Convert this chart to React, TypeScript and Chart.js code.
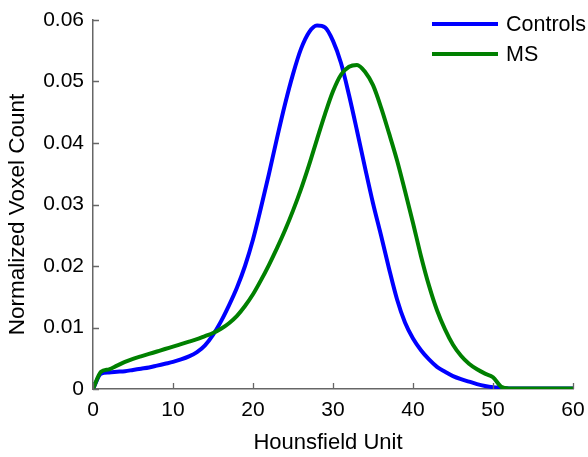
import React, { useEffect, useRef } from "react";
import { Chart, registerables } from "chart.js";

Chart.register(...registerables);

const huValues = [
  0, 1, 2, 3, 4, 5, 6, 7, 8, 9, 10, 11, 12, 13, 14, 15, 16, 17, 18, 19, 20,
  21, 22, 23, 24, 25, 26, 27, 28, 29, 30, 31, 32, 33, 34, 35, 36, 37, 38, 39, 40,
  41, 42, 43, 44, 45, 46, 47, 48, 49, 50, 51, 52, 53, 54, 55, 56, 57, 58, 59, 60,
];

const controlsValues = [
  0, 0.0025, 0.0027, 0.0028, 0.0029, 0.0031, 0.0033, 0.0035, 0.0038, 0.0041, 0.0044,
  0.0048, 0.0053, 0.006, 0.0071, 0.0088, 0.011, 0.0136, 0.0165, 0.02, 0.0243,
  0.0295, 0.035, 0.0408, 0.0463, 0.0512, 0.0553, 0.058, 0.0591, 0.0588, 0.0566,
  0.053, 0.0478, 0.042, 0.036, 0.0302, 0.025, 0.0196, 0.0146, 0.0108, 0.0082,
  0.0063, 0.0048, 0.0036, 0.0028, 0.0021, 0.0016, 0.0012, 0.0008, 0.0005, 0.0003,
  0.0002, 0.0001, 0.0001, 0.0001, 0.0001, 0.0001, 0.0001, 0.0001, 0.0001, 0.0001,
];

const msValues = [
  0, 0.0028, 0.0032, 0.0038, 0.0044, 0.0049, 0.0053, 0.0057, 0.0061, 0.0065, 0.0069,
  0.0073, 0.0077, 0.0081, 0.0086, 0.0091, 0.0098, 0.0107, 0.0119, 0.0135, 0.0154,
  0.0177, 0.0202, 0.0229, 0.0258, 0.029, 0.0325, 0.0364, 0.0406, 0.0447, 0.0484,
  0.0511, 0.0524, 0.0527, 0.0516, 0.0494, 0.0458, 0.0416, 0.0372, 0.0322, 0.027,
  0.0216, 0.0168, 0.0128, 0.0097, 0.0072, 0.0054, 0.0041, 0.0032, 0.0025, 0.0019,
  0.0004, 0.0001, 0.0001, 0.0001, 0.0001, 0.0001, 0.0001, 0.0001, 0.0001, 0.0001,
];

const seriesNames = ["Controls", "MS"];
const seriesColors = ["#0000ff", "#008000"];
const xTickLabels = ["0", "10", "20", "30", "40", "50", "60"];
const yTickLabels = ["0", "0.01", "0.02", "0.03", "0.04", "0.05", "0.06"];
const xTitle = "Hounsfield Unit";
const yTitle = "Normalized Voxel Count";

const FONT = '"Liberation Sans", Arial, Helvetica, sans-serif';
const AXIS_COLOR = "#666666";

const decorPlugin = {
  id: "decor",
  afterDraw(chart: any) {
    const ctx = chart.ctx;
    const xs = chart.scales.x;
    const ys = chart.scales.y;
    const area = chart.chartArea;
    ctx.save();
    // inward ticks
    ctx.strokeStyle = AXIS_COLOR;
    ctx.lineWidth = 1.3;
    ctx.beginPath();
    xs.ticks.forEach((t: any) => {
      const px = Math.round(xs.getPixelForValue(t.value)) + 0.5;
      ctx.moveTo(px, area.bottom);
      ctx.lineTo(px, area.bottom - 6);
    });
    ys.ticks.forEach((t: any) => {
      const py = Math.round(ys.getPixelForValue(t.value)) + 0.5;
      ctx.moveTo(area.left, py);
      ctx.lineTo(area.left + 6, py);
    });
    ctx.stroke();

    // axis titles
    ctx.fillStyle = "#000";
    ctx.font = `22px ${FONT}`;
    ctx.textAlign = "center";
    ctx.textBaseline = "middle";
    ctx.fillText(xTitle, (area.left + area.right) / 2 - 5, 443);
    ctx.save();
    ctx.translate(18, (area.top + area.bottom) / 2 + 10);
    ctx.rotate(-Math.PI / 2);
    ctx.font = `22.5px ${FONT}`;
    ctx.fillText(yTitle, 0, 0);
    ctx.restore();

    // legend
    ctx.textAlign = "left";
    ctx.font = `21.5px ${FONT}`;
    chart.data.datasets.forEach((ds: any, i: number) => {
      const y = 24 + i * 30;
      ctx.strokeStyle = ds.borderColor;
      ctx.lineWidth = 4;
      ctx.beginPath();
      ctx.moveTo(432, y);
      ctx.lineTo(498, y);
      ctx.stroke();
      ctx.fillStyle = "#000";
      ctx.fillText(ds.label, 506, y + 1);
    });
    ctx.restore();
  },
};

export default function App() {
  const ref = useRef<HTMLCanvasElement | null>(null);

  useEffect(() => {
    if (!ref.current) return;
    const chart = new Chart(ref.current, {
      type: "line",
      data: {
        datasets: [
          {
            label: seriesNames[0],
            data: huValues.map((x, i) => ({ x, y: controlsValues[i] })),
            borderColor: seriesColors[0],
            backgroundColor: seriesColors[0],
            borderWidth: 4,
            pointRadius: 0,
            cubicInterpolationMode: "monotone",
            order: 1,
          },
          {
            label: seriesNames[1],
            data: huValues.map((x, i) => ({ x, y: msValues[i] })),
            borderColor: seriesColors[1],
            backgroundColor: seriesColors[1],
            borderWidth: 4,
            pointRadius: 0,
            cubicInterpolationMode: "monotone",
            order: 0,
          },
        ],
      },
      options: {
        responsive: false,
        animation: false,
        devicePixelRatio: 1,
        layout: { padding: { top: 20, right: 15, left: 0, bottom: 0 } },
        plugins: {
          legend: { display: false },
          tooltip: { enabled: false },
          title: { display: false },
        },
        scales: {
          x: {
            type: "linear",
            min: 0,
            max: 60,
            grid: { display: false, drawTicks: false },
            border: { display: true, color: AXIS_COLOR, width: 1.5 },
            ticks: {
              stepSize: 10,
              color: "#000",
              font: { family: FONT, size: 21 },
              padding: 9,
              maxRotation: 0,
              callback: (_v: any, i: number) => xTickLabels[i],
            },
            afterFit: (s: any) => {
              s.height = 68;
              s.paddingRight = 0;
              s.paddingLeft = 0;
            },
          },
          y: {
            type: "linear",
            min: 0,
            max: 0.06,
            grid: { display: false, drawTicks: false },
            border: { display: true, color: AXIS_COLOR, width: 1.5 },
            ticks: {
              stepSize: 0.01,
              color: "#000",
              font: { family: FONT, size: 21 },
              padding: 9,
              callback: (_v: any, i: number) => yTickLabels[i],
            },
            afterFit: (s: any) => {
              s.width = 93;
              s.paddingTop = 0;
              s.paddingBottom = 0;
            },
          },
        },
      },
      plugins: [decorPlugin],
    } as any);
    return () => chart.destroy();
  }, []);

  return (
    <div style={{ position: "absolute", left: 0, top: 0, width: 588, height: 457, background: "#fff" }}>
      <canvas ref={ref} width={588} height={457} style={{ display: "block" }} />
    </div>
  );
}
